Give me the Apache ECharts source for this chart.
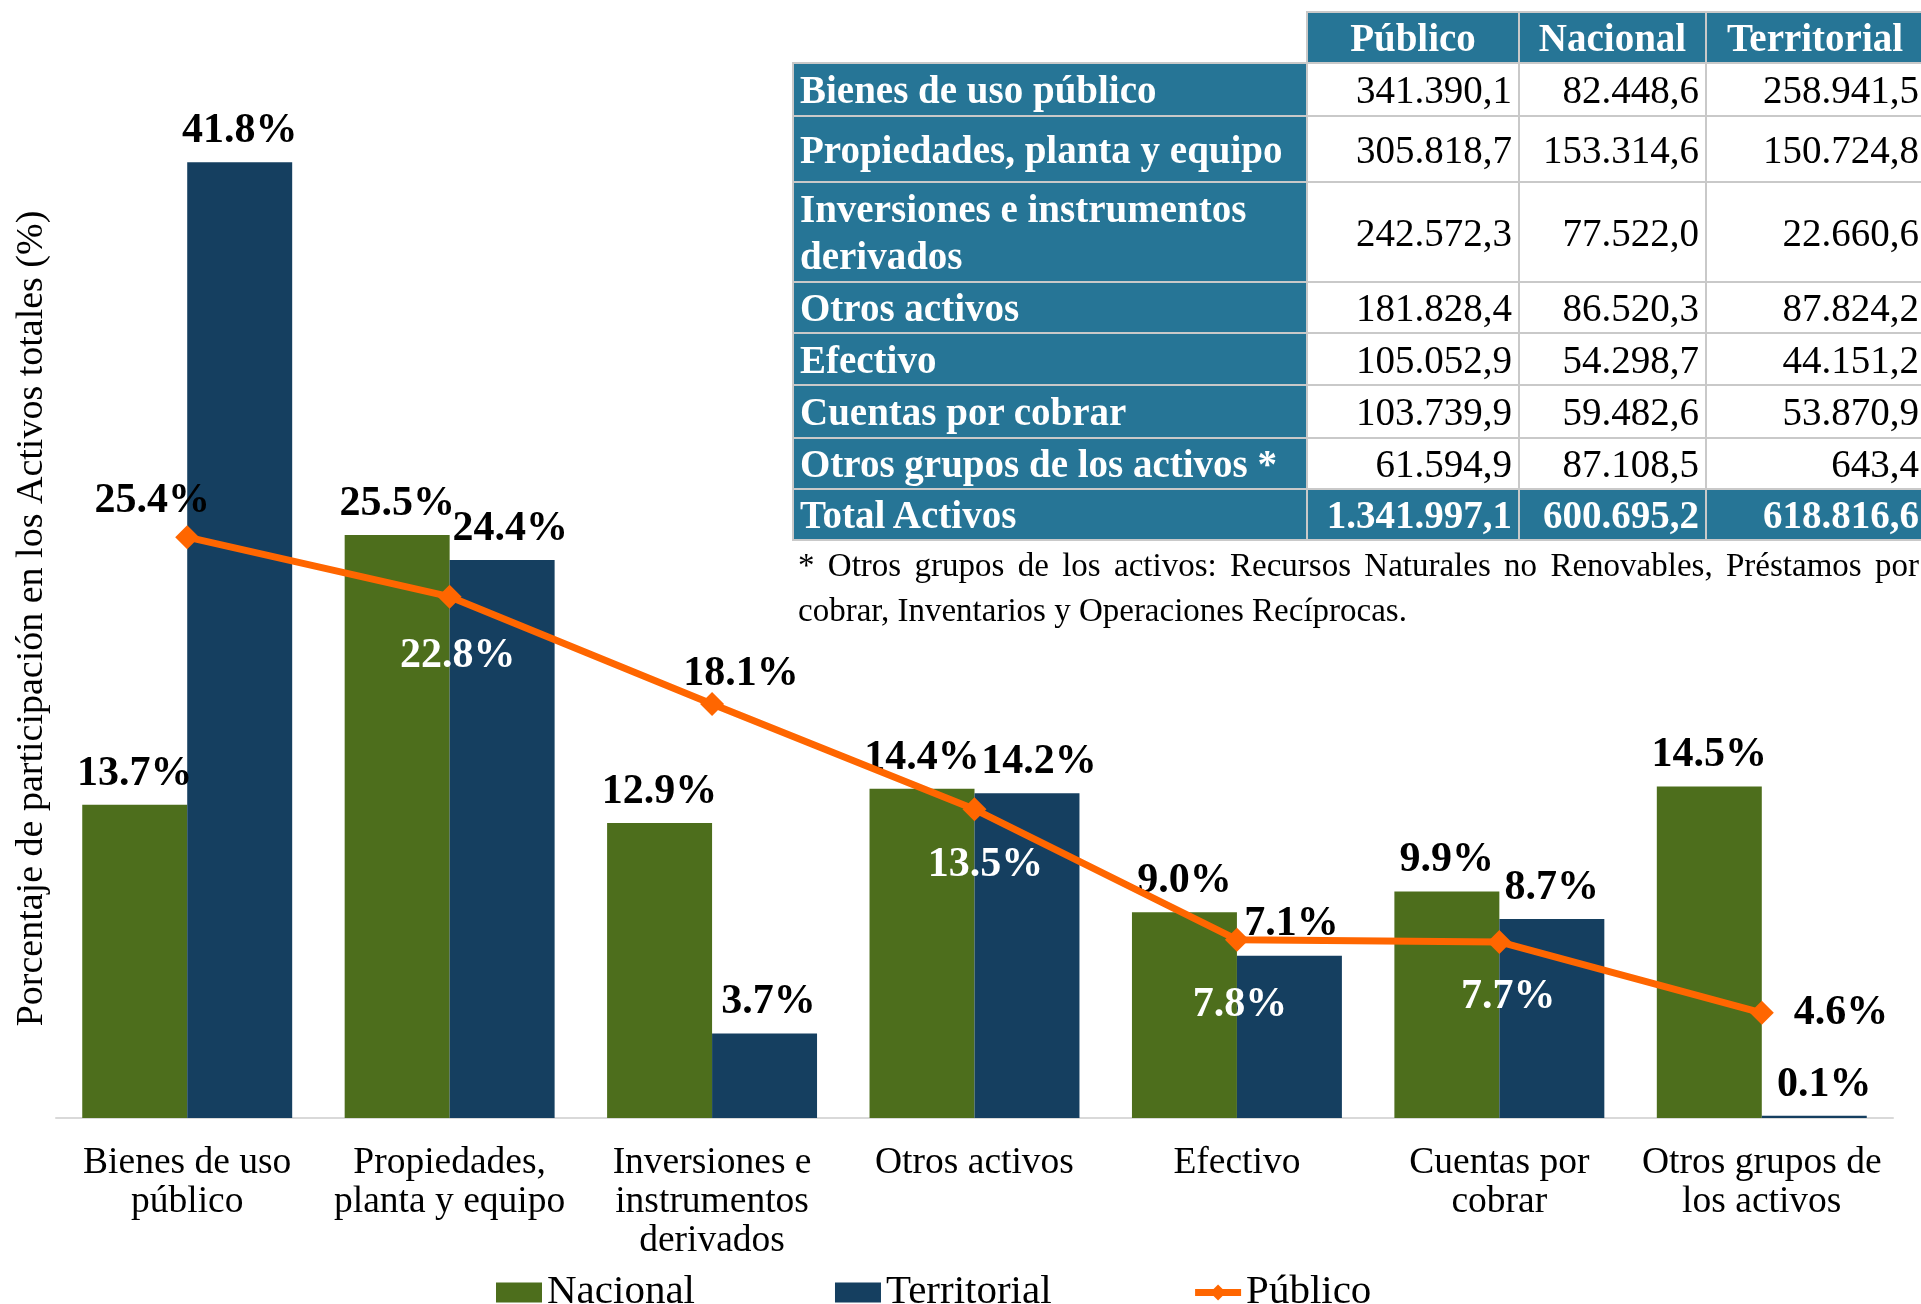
<!DOCTYPE html>
<html>
<head>
<meta charset="utf-8">
<title>Participación en los Activos totales</title>
<script src="https://cdn.jsdelivr.net/npm/echarts@6/dist/echarts.min.js"></script>
<style>
  html, body { margin: 0; padding: 0; background: #fff; }
  body { width: 1921px; height: 1304px; overflow: hidden; position: relative; font-family: 'Liberation Serif', 'Times New Roman', serif; }
  #chart { position: absolute; left: 0; top: 0; width: 1921px; height: 1304px; }
  .tabla { position: absolute; left: 792px; top: 11px; width: 1131px; border-collapse: collapse; table-layout: fixed; z-index: 2; font-size: 39px; line-height: 47px; }
  .tabla td, .tabla th { border: 2px solid #c9c9c9; padding: 0 6px; white-space: nowrap; overflow: hidden; }
  .tabla th { background: #267596; color: #fff; font-weight: bold; text-align: center; }
  .tabla th.vacio { background: transparent; border-top: none; border-left: none; }
  .tabla td.lbl { background: #267596; color: #fff; font-weight: bold; text-align: left; white-space: normal; }
  .tabla td.val { background: #fff; color: #000; text-align: right; }
  .tabla td.val:last-child { padding-right: 4px; }
  .tabla tr.total td { background: #267596; color: #fff; font-weight: bold; }
  .nota { position: absolute; left: 798px; top: 543px; width: 1121px; font-size: 33px; line-height: 45px; text-align: justify; color: #000; z-index: 2; }
</style>
</head>
<body>
<div id="chart"></div>
<table class="tabla" id="tabla"></table>
<div class="nota">* Otros grupos de los activos: Recursos Naturales no Renovables, Préstamos por cobrar, Inventarios y Operaciones Recíprocas.</div>
<script>
// participación (%) en los activos totales de cada sector
const categorias = ['Bienes de uso\npúblico', 'Propiedades,\nplanta y equipo', 'Inversiones e\ninstrumentos\nderivados', 'Otros activos', 'Efectivo', 'Cuentas por\ncobrar', 'Otros grupos de\nlos activos']
const nacional = [13.7, 25.5, 12.9, 14.4, 9.0, 9.9, 14.5]
const territorial = [41.8, 24.4, 3.7, 14.2, 7.1, 8.7, 0.1]
const publico = [25.4, 22.8, 18.1, 13.5, 7.8, 7.7, 4.6]

// tabla de saldos
const columnasTabla = ['Público', 'Nacional', 'Territorial']
const filasTabla = ['Bienes de uso público', 'Propiedades, planta y equipo', 'Inversiones e instrumentos derivados', 'Otros activos', 'Efectivo', 'Cuentas por cobrar', 'Otros grupos de los activos *', 'Total Activos']
const saldoPublico = ['341.390,1', '305.818,7', '242.572,3', '181.828,4', '105.052,9', '103.739,9', '61.594,9', '1.341.997,1']
const saldoNacional = ['82.448,6', '153.314,6', '77.522,0', '86.520,3', '54.298,7', '59.482,6', '87.108,5', '600.695,2']
const saldoTerritorial = ['258.941,5', '150.724,8', '22.660,6', '87.824,2', '44.151,2', '53.870,9', '643,4', '618.816,6']

const altoFilas = [53, 66, 100, 51, 52, 53, 51, 51]

// armar la tabla
const tabla = document.getElementById('tabla')
let html = '<colgroup><col style="width:514px"><col style="width:212px"><col style="width:187px"><col style="width:218px"></colgroup>'
html += '<tr style="height:51px"><th class="vacio"></th>' + columnasTabla.map(c => '<th>' + c + '</th>').join('') + '</tr>'
filasTabla.forEach((fila, i) => {
  const esTotal = i === filasTabla.length - 1
  html += '<tr' + (esTotal ? ' class="total"' : '') + ' style="height:' + altoFilas[i] + 'px">'
  html += '<td class="lbl">' + fila + '</td>'
  html += '<td class="val">' + saldoPublico[i] + '</td>'
  html += '<td class="val">' + saldoNacional[i] + '</td>'
  html += '<td class="val">' + saldoTerritorial[i] + '</td></tr>'
})
tabla.innerHTML = html

const fuente = "'Liberation Serif', 'Times New Roman', serif"
const pct = v => v.toFixed(1) + '%'

// ubicación de las etiquetas de la línea Público
const etiquetasLinea = [
  { position: 'top', distance: 3, offset: [-35, 0], color: '#000' },
  { position: 'bottom', distance: 27, offset: [8, 0], color: '#fff' },
  { position: 'top', distance: -3, offset: [29, 0], color: '#000' },
  { position: 'bottom', distance: 23, offset: [11, 0], color: '#fff' },
  { position: 'bottom', distance: 33, offset: [3, 0], color: '#fff' },
  { position: 'bottom', distance: 22, offset: [9, 0], color: '#fff' },
  { position: 'right', distance: 20, offset: [0, 0], color: '#000' }
]
// pequeños corrimientos de etiquetas de barras territoriales
const despTerritorial = [0, 8, 4, 12, 2, 0, 10]

const etiquetaBarra = { show: true, position: 'top', distance: 10, fontSize: 42, fontWeight: 'bold', color: '#000', fontFamily: fuente, formatter: p => pct(p.value) }

const chart = echarts.init(document.getElementById('chart'))
chart.setOption({
  backgroundColor: '#fff',
  animation: false,
  textStyle: { fontFamily: fuente },
  grid: { left: 56, right: 28, top: 89, bottom: 186 },
  legend: {
    data: [
      { name: 'Nacional', icon: 'rect' },
      { name: 'Territorial', icon: 'rect' },
      { name: 'Público', itemStyle: { color: '#ff6600' }, lineStyle: { width: 7, color: '#ff6600' } }
    ],
    left: 491,
    top: 1267,
    itemWidth: 46,
    itemHeight: 20,
    itemGap: 140,
    textStyle: { fontSize: 41, color: '#000', fontFamily: fuente }
  },
  xAxis: {
    type: 'category',
    data: categorias,
    axisLine: { lineStyle: { color: '#d9d9d9', width: 2 } },
    axisTick: { show: false },
    axisLabel: { interval: 0, fontSize: 37.5, lineHeight: 39, margin: 26, color: '#000', fontFamily: fuente }
  },
  yAxis: {
    type: 'value',
    min: 0,
    max: 45,
    name: 'Porcentaje de participación en los Activos totales (%)',
    nameLocation: 'middle',
    nameRotate: 90,
    nameGap: 5,
    nameTextStyle: { fontSize: 38, color: '#000', fontFamily: fuente, padding: [0, 30, 0, 0] },
    axisLine: { show: false },
    axisTick: { show: false },
    axisLabel: { show: false },
    splitLine: { show: false }
  },
  series: [
    {
      name: 'Nacional',
      type: 'bar',
      data: nacional,
      barGap: '0%',
      barCategoryGap: '20%',
      itemStyle: { color: '#4d6e1c' },
      label: etiquetaBarra
    },
    {
      name: 'Territorial',
      type: 'bar',
      data: territorial.map((v, i) => ({ value: v, label: { offset: [despTerritorial[i], 0] } })),
      barGap: '0%',
      barCategoryGap: '20%',
      itemStyle: { color: '#153f60' },
      label: etiquetaBarra
    },
    {
      name: 'Público',
      type: 'line',
      z: 5,
      data: publico.map((v, i) => ({ value: v, label: etiquetasLinea[i] })),
      symbol: 'diamond',
      symbolSize: 24,
      lineStyle: { color: '#ff6600', width: 7 },
      itemStyle: { color: '#ff6600' },
      label: { show: true, fontSize: 42, fontWeight: 'bold', fontFamily: fuente, formatter: p => pct(p.value) }
    }
  ]
})
</script>
</body>
</html>
